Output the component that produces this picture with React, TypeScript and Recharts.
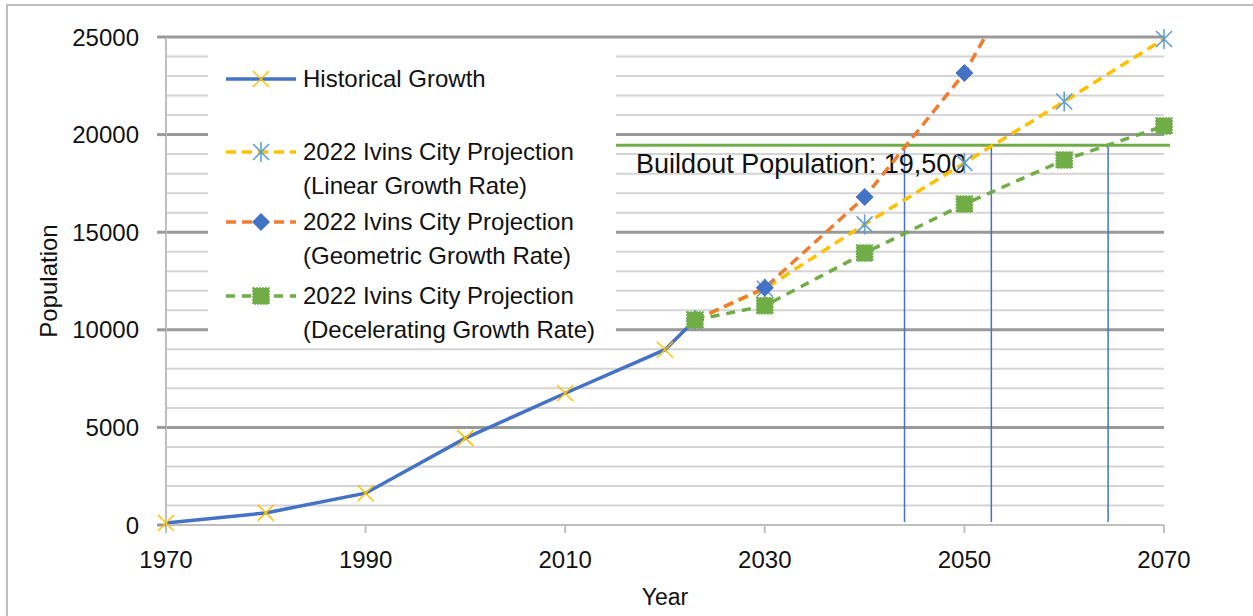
import React from "react";
import { LineChart, Line, XAxis, YAxis, ReferenceLine } from "recharts";

// historical census counts
const HIST_YEARS = [1970, 1980, 1990, 2000, 2010, 2020, 2023];
const HISTORICAL = [100, 620, 1630, 4450, 6750, 8980, 10500];

// 2022 projections
const PROJ_YEARS = [2023, 2030, 2040, 2050, 2060, 2070];
const LINEAR = [10500, 12100, 15400, 18550, 21700, 24900];
const GEOMETRIC = [10500, 12150, 16800, 23150, 32100, 44200];
const DECELERATING = [10500, 11230, 13930, 16440, 18700, 20440];

const BUILDOUT = 19450;
const BUILDOUT_SPAN = [2014.8, 2070.6];
const CROSSING_YEARS = [2044.0, 2052.7, 2064.4];

const X_TICKS = [1970, 1990, 2010, 2030, 2050, 2070];
const Y_TICKS = [0, 5000, 10000, 15000, 20000, 25000];
const MINOR_GRID = [1000, 2000, 3000, 4000, 6000, 7000, 8000, 9000, 11000, 12000, 13000, 14000, 16000, 17000, 18000, 19000, 21000, 22000, 23000, 24000];
const MAJOR_GRID = [5000, 10000, 15000, 20000, 25000];

const LEGEND_LABELS = [
  ["Historical Growth"],
  ["2022 Ivins City Projection", "(Linear Growth Rate)"],
  ["2022 Ivins City Projection", "(Geometric Growth Rate)"],
  ["2022 Ivins City Projection", "(Decelerating Growth Rate)"],
];

const FONT = '"Liberation Sans", Arial, sans-serif';
const BLUE = "#4472C4";
const YELLOW = "#FFC000";
const ORANGE = "#ED7D31";
const GREEN = "#70AD47";
const STAR = "#5B9BD5";

const toRows = (years: number[], vals: number[]) =>
  years.map((year, i) => ({ year, value: vals[i] }));

const XMark = ({ cx, cy }: any) => (
  <path
    d={`M${cx - 8},${cy - 8}L${cx + 8},${cy + 8}M${cx - 8},${cy + 8}L${cx + 8},${cy - 8}`}
    stroke={YELLOW}
    strokeWidth={1.5}
    fill="none"
  />
);

const StarMark = ({ cx, cy }: any) => (
  <path
    d={`M${cx - 8},${cy - 8}L${cx + 8},${cy + 8}M${cx - 8},${cy + 8}L${cx + 8},${cy - 8}M${cx},${cy - 10}L${cx},${cy + 10}`}
    stroke={STAR}
    strokeWidth={1.5}
    fill="none"
  />
);

const DiamondMark = ({ cx, cy }: any) => (
  <path d={`M${cx},${cy - 9}L${cx + 9},${cy}L${cx},${cy + 9}L${cx - 9},${cy}Z`} fill={BLUE} />
);

const SquareMark = ({ cx, cy }: any) => (
  <rect x={cx - 8} y={cy - 8} width={16} height={16} fill={GREEN} stroke={GREEN} strokeWidth={1.5} strokeDasharray="2 1" />
);

const SERIES = [
  { key: "hist", data: toRows(HIST_YEARS, HISTORICAL), color: BLUE, dash: undefined, Mark: XMark },
  { key: "linear", data: toRows(PROJ_YEARS, LINEAR), color: YELLOW, dash: "10 6", Mark: StarMark },
  { key: "geo", data: toRows(PROJ_YEARS, GEOMETRIC), color: ORANGE, dash: "10 6", Mark: DiamondMark },
  { key: "decel", data: toRows(PROJ_YEARS, DECELERATING), color: GREEN, dash: "9 7", Mark: SquareMark },
];

const BuildoutLabel = ({ viewBox }: any) => (
  <text x={viewBox.x + 23} y={viewBox.y + 28} fontSize={27} fill="#111" fontFamily={FONT}>
    Buildout Population: 19,500
  </text>
);

const ROW_TOPS = [24, 97, 167, 241];

function ChartLegend() {
  return (
    <div style={{ position: "absolute", left: 208, top: 55, width: 408, height: 290, background: "#fff", fontFamily: FONT, fontSize: 24, color: "#111" }}>
      {SERIES.map((s, i) => (
        <div key={s.key}>
          <svg style={{ position: "absolute", left: 14, top: ROW_TOPS[i] - 12 }} width={80} height={24}>
            <line x1={4} x2={74} y1={12} y2={12} stroke={s.color} strokeWidth={3.5} strokeDasharray={s.dash} />
            <s.Mark cx={39} cy={12} />
          </svg>
          {LEGEND_LABELS[i].map((t, j) => (
            <div key={j} style={{ position: "absolute", left: 95, top: ROW_TOPS[i] - 15 + j * 33.5, lineHeight: "30px", whiteSpace: "nowrap" }}>
              {t}
            </div>
          ))}
        </div>
      ))}
    </div>
  );
}

export default function App() {
  return (
    <div style={{ position: "absolute", left: 0, top: 0, width: 1253, height: 616, overflow: "hidden", background: "#fff" }}>
      <div style={{ position: "absolute", left: 6, top: 4, width: 1300, height: 700, border: "2px solid #BFBFBF" }} />
      <LineChart
        width={1253}
        height={616}
        margin={{ top: 37, right: 89, bottom: 11, left: 0 }}
        style={{ fontFamily: FONT, position: "absolute", left: 0, top: 0 }}
      >
        <XAxis
          dataKey="year"
          type="number"
          domain={[1970, 2070]}
          ticks={X_TICKS}
          interval={0}
          height={80}
          allowDuplicatedCategory={false}
          tick={{ fontSize: 24, fill: "#111" }}
          tickSize={8}
          tickMargin={18}
          axisLine={{ stroke: "#BFBFBF", strokeWidth: 2 }}
          tickLine={{ stroke: "#BFBFBF", strokeWidth: 2 }}
          label={{ value: "Year", position: "insideBottom", offset: 0, fontSize: 23, fill: "#111" }}
        />
        <YAxis
          type="number"
          domain={[0, 25000]}
          ticks={Y_TICKS}
          interval={0}
          width={166}
          tick={{ fontSize: 24, fill: "#111" }}
          tickSize={9}
          tickMargin={18}
          axisLine={{ stroke: "#BFBFBF", strokeWidth: 2 }}
          tickLine={{ stroke: "#999", strokeWidth: 3 }}
          label={{ value: "Population", angle: -90, position: "insideLeft", offset: 48, fontSize: 24, fill: "#111", style: { textAnchor: "middle" } }}
        />
        <YAxis yAxisId="geo" type="number" domain={[0, 25000]} allowDataOverflow hide />
        {MINOR_GRID.map((v) => (
          <ReferenceLine key={`mi${v}`} y={v} stroke="#D4D4D4" strokeWidth={2} />
        ))}
        {MAJOR_GRID.map((v) => (
          <ReferenceLine key={`ma${v}`} y={v} stroke="#999" strokeWidth={3} />
        ))}
        {CROSSING_YEARS.map((x) => (
          <ReferenceLine
            key={`c${x}`}
            segment={[{ x, y: 150 }, { x, y: BUILDOUT }]}
            stroke={BLUE}
            strokeWidth={1.5}
            ifOverflow="visible"
          />
        ))}
        <ReferenceLine
          segment={[{ x: BUILDOUT_SPAN[0], y: BUILDOUT }, { x: BUILDOUT_SPAN[1], y: BUILDOUT }]}
          stroke={GREEN}
          strokeWidth={3}
          ifOverflow="visible"
          label={<BuildoutLabel />}
        />
        {SERIES.map((s) => (
          <Line
            key={s.key}
            data={s.data}
            dataKey="value"
            yAxisId={s.key === "geo" ? "geo" : 0}
            type="linear"
            stroke={s.color}
            strokeWidth={3.5}
            strokeDasharray={s.dash}
            dot={(p: any) => <s.Mark key={`${s.key}${p.index}`} cx={p.cx} cy={p.cy} />}
            activeDot={false}
            isAnimationActive={false}
          />
        ))}
      </LineChart>
      <ChartLegend />
    </div>
  );
}
